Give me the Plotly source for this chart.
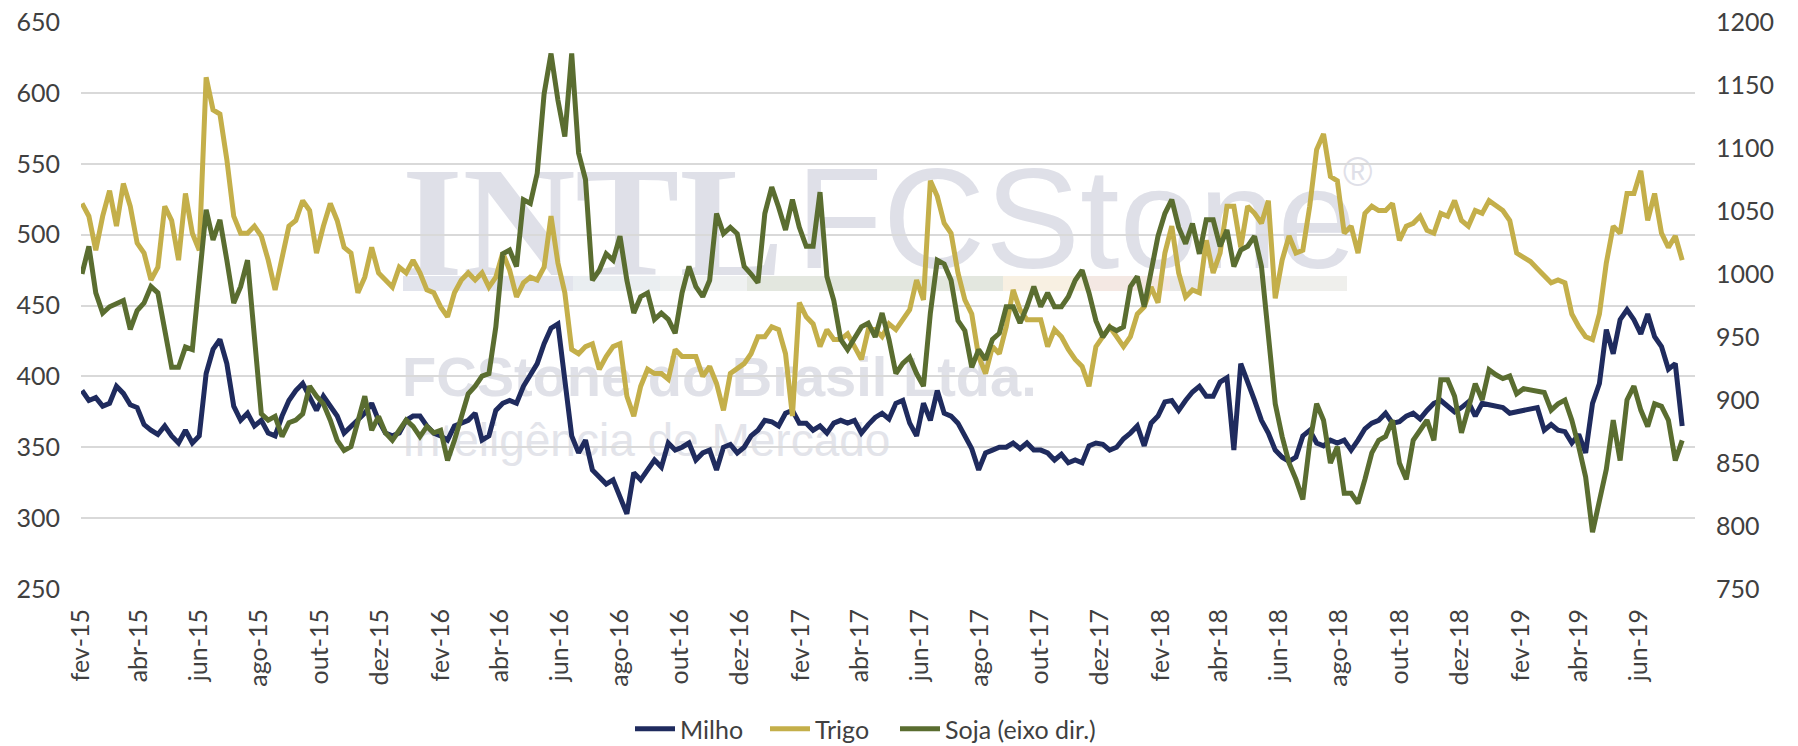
import pandas as pd
import plotly.graph_objects as go

# ---------------- data (weekly readings, R$/t) ----------------
start_date = "2015-02-02"

milho = [
    390, 383, 385, 379, 381, 393, 388, 380, 378, 366,
    362, 359, 365, 358, 353, 362, 353, 358, 402, 419,
    426, 409, 379, 369, 374, 365, 369, 360, 358, 372,
    383, 390, 395, 386, 376, 386, 379, 372, 360, 365,
    369, 374, 381, 369, 360, 358, 360, 369, 372, 372,
    365, 360, 358, 355, 365, 367, 369, 374, 355,
    358, 376, 381, 383, 381, 393, 401, 409, 423, 434,
    437, 397, 358, 346, 355, 334, 329, 324, 327, 315,
    303, 332, 327, 334, 341, 336, 353, 348, 350, 353,
    341, 346, 348, 334, 350, 352, 346, 350, 358, 362,
    369, 368, 365, 374, 376, 367, 367, 362, 365, 360,
    367, 369, 367, 369, 360, 366, 371,
    374, 370, 381, 383, 367, 358, 381, 369, 390, 374,
    372, 367, 358, 349, 334, 346, 348, 350, 350, 353,
    349, 353, 348, 348, 346, 341, 345, 339, 341, 339,
    351, 353, 352, 348, 350, 356, 360, 365, 351, 367,
    372, 382, 383, 376, 383, 389, 393, 386, 386, 396,
    399, 348, 409, 397, 383, 369, 360, 348,
    343, 340, 343, 358, 362, 353, 351, 355, 353, 355,
    348, 355, 363, 367, 369, 374, 367, 368, 372, 374,
    370, 376, 381, 383, 379, 375, 378, 382, 372, 381,
    380, 379, 378, 374, 375, 376, 377, 378, 362, 366,
    362, 361, 353, 359, 346, 381, 395, 433, 416, 440,
    447, 440, 430, 444, 428, 421, 405, 409, 365,
]

trigo = [
    522, 513, 489, 513, 531, 506, 536, 520, 494, 487,
    468, 477, 520, 510, 482, 529, 501, 489, 611, 588,
    585, 553, 513, 501, 501, 506, 499, 482, 461, 484,
    506, 510, 524, 517, 487, 506, 522, 510, 491, 487,
    459, 470, 491, 473, 468, 463, 477, 473, 482, 473,
    461, 459, 449, 442, 459, 468, 473, 468, 473,
    463, 470, 487, 475, 456, 466, 470, 468, 477, 513,
    480, 459, 419, 416, 421, 423, 405, 414, 421, 423,
    386, 372, 393, 405, 402, 402, 398, 419, 414, 414,
    414, 400, 407, 395, 376, 402, 405, 409, 416, 428,
    428, 435, 433, 416, 372, 452, 442, 437, 421, 433,
    426, 426, 430, 421, 412, 433, 433, 428,
    437, 433, 440, 447, 468, 454, 538, 527, 508, 501,
    473, 454, 444, 414, 402, 421, 416, 435, 461, 447,
    440, 440, 440, 421, 433, 428, 419, 412, 407, 393,
    421, 428, 435, 428, 421, 428, 444, 449, 463, 452,
    487, 506, 473, 456, 461, 459, 496, 473, 487, 520,
    520, 491, 520, 515, 508, 524, 455, 482,
    499, 487, 489, 520, 560, 571, 541, 538, 501, 506,
    487, 515, 520, 517, 517, 522, 496, 506, 508, 513,
    503, 501, 515, 513, 524, 510, 506, 517, 515, 524,
    520, 517, 510, 487, 484, 481, 476, 471, 466, 468,
    466, 444, 435, 428, 426, 444, 480, 506, 501, 529,
    529, 545, 510, 529, 501, 491, 499, 482, 470,
]

soja = [
    1000, 1022, 985, 969, 974, 977, 979, 956, 971, 977,
    990, 985, 953, 926, 926, 942, 940, 992, 1051, 1027,
    1043, 1011, 977, 990, 1011, 950, 889, 884, 887, 871,
    882, 884, 889, 911, 903, 897, 884, 868, 860, 863,
    884, 903, 876, 887, 874, 868, 876, 884, 879, 871,
    879, 874, 876, 852, 868, 887, 905, 911, 919,
    921, 958, 1016, 1019, 1006, 1059, 1056, 1080, 1143, 1175,
    1138, 1109, 1175, 1096, 1075, 995, 1003, 1016, 1011, 1030,
    995, 969, 982, 985, 964, 969, 964, 953, 985, 1006,
    990, 982, 995, 1048, 1032, 1037, 1032, 1006, 1000, 993,
    1048, 1069, 1053, 1035, 1059, 1037, 1022, 1022, 1065, 998,
    979, 948, 940, 950, 958, 961, 950, 969,
    948, 921, 929, 934, 921, 911, 969, 1011, 1008, 995,
    963, 955, 926, 940, 932, 948, 953, 974, 974, 961,
    974, 990, 974, 985, 974, 974, 982, 995, 1003, 985,
    963, 950, 958, 955, 958, 990, 998, 974, 1000, 1030,
    1048, 1059, 1037, 1024, 1040, 1016, 1043, 1043, 1022, 1035,
    1006, 1019, 1022, 1030, 1006, 950, 897, 871,
    850, 837, 821, 866, 897, 884, 850, 863, 826, 826,
    818, 837, 858, 868, 871, 884, 850, 837, 868, 876,
    884, 868, 916, 916, 903, 874, 895, 913, 900, 924,
    920, 917, 919, 905, 909, 908, 907, 906, 892, 897,
    900, 884, 863, 839, 795, 821, 845, 884, 852, 900,
    911, 892, 879, 897, 895, 884, 852, 868, 863,
]

tick_dates = ["2015-02-01", "2015-04-01", "2015-06-01", "2015-08-01", "2015-10-01", "2015-12-01",
              "2016-02-01", "2016-04-01", "2016-06-01", "2016-08-01", "2016-10-01", "2016-12-01",
              "2017-02-01", "2017-04-01", "2017-06-01", "2017-08-01", "2017-10-01", "2017-12-01",
              "2018-02-01", "2018-04-01", "2018-06-01", "2018-08-01", "2018-10-01", "2018-12-01",
              "2019-02-01", "2019-04-01", "2019-06-01"]
tick_labels = ["fev-15", "abr-15", "jun-15", "ago-15", "out-15", "dez-15",
               "fev-16", "abr-16", "jun-16", "ago-16", "out-16", "dez-16",
               "fev-17", "abr-17", "jun-17", "ago-17", "out-17", "dez-17",
               "fev-18", "abr-18", "jun-18", "ago-18", "out-18", "dez-18",
               "fev-19", "abr-19", "jun-19"]

series_names = ["Milho", "Trigo", "Soja (eixo dir.)"]

# ---------------- figure ----------------
dates = pd.date_range(start=start_date, periods=len(milho), freq="7D")

C_MILHO = "#1f2b5e"
C_TRIGO = "#c4af4a"
C_SOJA = "#5a6d30"
TXT = "#404040"
FONT = "Lato"
W, H = 1798, 746
L, R, T, B = 81, 103, 22, 157
LW = 5

fig = go.Figure()
fig.add_trace(go.Scatter(x=dates, y=milho, name=series_names[0], mode="lines",
                         line=dict(color=C_MILHO, width=LW), legend="legend"))
fig.add_trace(go.Scatter(x=dates, y=trigo, name=series_names[1], mode="lines",
                         line=dict(color=C_TRIGO, width=LW), legend="legend2"))
fig.add_trace(go.Scatter(x=dates, y=soja, name=series_names[2], mode="lines", yaxis="y2",
                         line=dict(color=C_SOJA, width=LW), legend="legend3"))

pw, ph = W - L - R, H - T - B


def px(x):
    return (x - L) / pw


def py(y):
    return (H - B - y) / ph


shapes = []
# watermark colour strip
strip = [(403, 573, "#e2e4ec"), (573, 660, "#eaeef1"), (660, 747, "#eff1f1"),
         (747, 1003, "#e3e7df"), (1003, 1087, "#f8f0e2"), (1087, 1170, "#f4e8e3"),
         (1170, 1260, "#e8e8e8"), (1260, 1347, "#efefec")]
for x0, x1, c in strip:
    shapes.append(dict(type="rect", xref="paper", yref="paper", x0=px(x0), x1=px(x1),
                       y0=py(291), y1=py(276), fillcolor=c, line=dict(width=0), layer="below"))


def wm(text, x0, x1, y0, y1, size, family, color, weight="normal"):
    shapes.append(dict(type="rect", xref="paper", yref="paper", x0=px(x0), x1=px(x1),
                       y0=py(y1), y1=py(y0), line=dict(width=0), fillcolor="rgba(0,0,0,0)",
                       layer="below",
                       label=dict(text=text, textposition="middle left", padding=0,
                                  font=dict(size=size, family=family, color=color, weight=weight))))


wm("INTL", 399, 760, 140, 270, 156, "Liberation Serif", "#dfe0e8", "bold")
wm("FCStone", 793, 1345, 140, 270, 142, "Liberation Sans", "#dfe0e8")
wm("®", 1340, 1380, 148, 188, 40, "Liberation Sans", "#dfe0e8")
wm("FCStone do Brasil Ltda.", 399, 1000, 345, 397, 56, "Liberation Sans", "#e0e1e8", "bold")
wm("Inteligência de Mercado", 399, 900, 414, 458, 46, "Liberation Sans", "#e3e4ea")


def leg(x_text_px):
    return dict(orientation="h", x=px(x_text_px - 50), xanchor="left", y=py(729), yanchor="middle",
                font=dict(family=FONT, size=25, color=TXT), itemwidth=40,
                bgcolor="rgba(0,0,0,0)", borderwidth=0)


fig.update_layout(
    width=W, height=H,
    margin=dict(l=L, r=R, t=T, b=B, pad=0, autoexpand=False),
    paper_bgcolor="white", plot_bgcolor="white",
    font=dict(family=FONT, size=25, color=TXT),
    showlegend=True,
    legend=leg(680), legend2=leg(815), legend3=leg(945),
    xaxis=dict(type="date", range=["2015-02-01", "2019-07-28"], tickvals=tick_dates,
               ticktext=tick_labels, tickangle=-90, showgrid=False, zeroline=False,
               showline=False, ticks="", ticklabelstandoff=14, automargin=False,
               tickfont=dict(family=FONT, size=25, color=TXT)),
    yaxis=dict(range=[250, 650], dtick=50, tick0=250, showgrid=True, gridcolor="#d9d9d9",
               gridwidth=1.5, zeroline=False, showline=False, ticks="", ticklabelstandoff=20,
               automargin=False, tickfont=dict(family=FONT, size=25, color=TXT)),
    yaxis2=dict(range=[750, 1200], dtick=50, tick0=750, overlaying="y", side="right",
                showgrid=False, zeroline=False, showline=False, ticks="", ticklabelstandoff=20,
                automargin=False, tickfont=dict(family=FONT, size=25, color=TXT)),
    shapes=shapes,
    hovermode=False,
)

fig.write_html("out.html", config={"displayModeBar": False},
               post_script="document.body.style.margin='0';document.body.style.overflow='hidden';")
